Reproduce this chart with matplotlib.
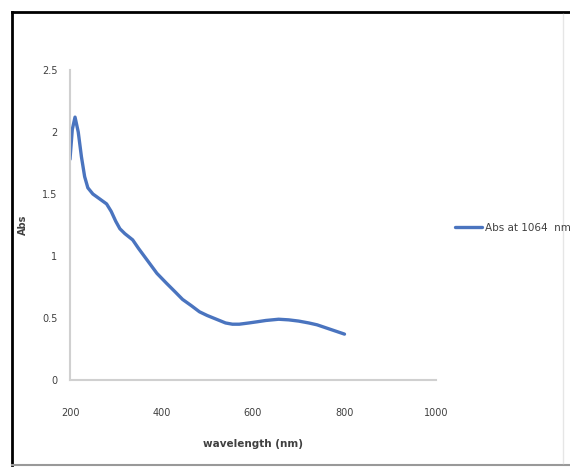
import numpy as np
import matplotlib
matplotlib.use("Agg")
import matplotlib.pyplot as plt
from matplotlib.lines import Line2D

plt.rcParams['font.family'] = ['Liberation Sans Narrow', 'DejaVu Sans']

# absorbance spectrum
wavelength = [200, 205, 211, 218, 225, 232, 239, 250, 265, 280, 290, 300, 309, 320,
              337, 350, 374, 390, 411, 430, 446, 465, 483, 500, 520, 540, 555, 570,
              591, 610, 628, 656, 678, 700, 722, 740, 760, 780, 800]
absorbance = [1.78, 2.02, 2.12, 2.00, 1.80, 1.64, 1.55, 1.50, 1.46, 1.42, 1.36, 1.28,
              1.22, 1.18, 1.13, 1.06, 0.94, 0.86, 0.78, 0.71, 0.65, 0.60, 0.55, 0.52,
              0.49, 0.46, 0.45, 0.45, 0.46, 0.47, 0.48, 0.49, 0.485, 0.475, 0.46,
              0.445, 0.42, 0.395, 0.37]
xticks = [200, 400, 600, 800, 1000]
yticks = [0, 0.5, 1, 1.5, 2, 2.5]
ytick_labels = ["0", "0.5", "1", "1.5", "2", "2.5"]
series_name = "Abs at 1064  nm"

W, H = 570, 468
fig = plt.figure(figsize=(W / 100, H / 100), dpi=100)
ax = fig.add_axes([70 / W, 1 - 380 / H, 366 / W, 310 / H])

ax.plot(wavelength, absorbance, color="#4a74bf", lw=2.4, label=series_name,
        solid_joinstyle="round", solid_capstyle="round")
ax.set_xlim(200, 1000)
ax.set_ylim(0, 2.5)
ax.set_xticks(xticks)
ax.set_yticks(yticks, ytick_labels)
for s in ["top", "right"]:
    ax.spines[s].set_visible(False)
for s in ["left", "bottom"]:
    ax.spines[s].set_color("#d0d0d0")
    ax.spines[s].set_linewidth(1.5)
ax.tick_params(length=0, labelsize=7, colors="#404040")
ax.tick_params(axis="x", pad=20)
ax.tick_params(axis="y", pad=9)
ax.set_xlabel("wavelength (nm)", fontsize=7.5, fontweight="bold", color="#404040")
ax.xaxis.set_label_coords(0.5, -0.19)
ax.set_ylabel("Abs", fontsize=7, fontweight="bold", color="#404040")
ax.yaxis.set_label_coords(-42 / 366, 0.5)

fig.legend(loc="center left", bbox_to_anchor=(446 / W, 1 - 228 / H), frameon=False,
           fontsize=7.5, handlelength=2.6, handletextpad=0.2, labelcolor="#404040")

# picture frame
fig.add_artist(Line2D([12 / W, 12 / W], [1 - 12 / H, 1 - 465 / H], color="black", lw=2))
fig.add_artist(Line2D([12 / W, 1], [1 - 12 / H, 1 - 12 / H], color="black", lw=2))
fig.add_artist(Line2D([12 / W, 1], [1 - 465 / H, 1 - 465 / H], color="#999999", lw=1.5))
fig.add_artist(Line2D([563 / W, 563 / W], [1 - 14 / H, 1 - 463 / H], color="#e6e6e6", lw=1))

fig.savefig("out.png", dpi=100)
